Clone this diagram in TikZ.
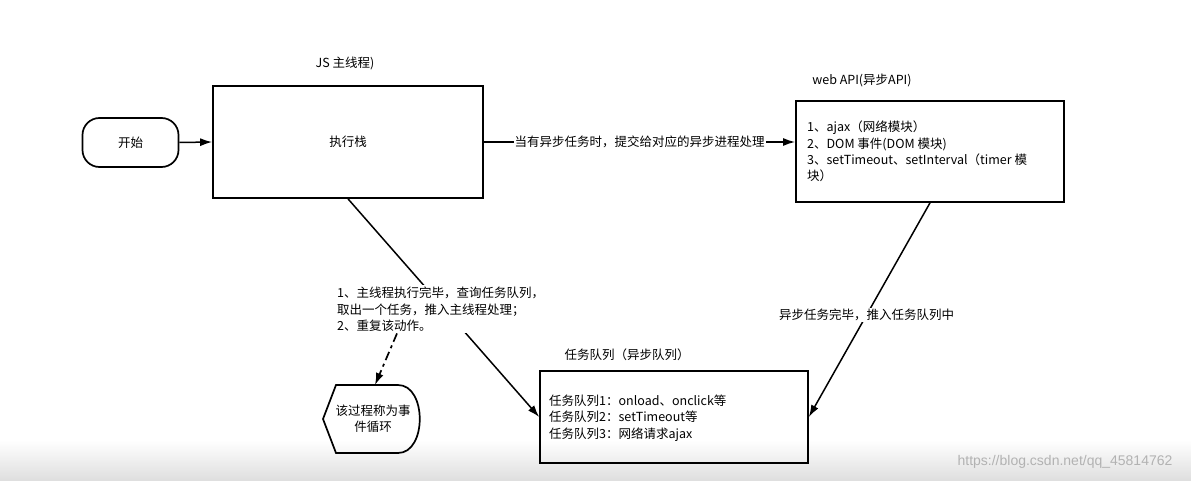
\documentclass[tikz,border=0pt]{standalone}
\usepackage{fontspec}
\setmainfont{Noto Sans CJK SC}
\newfontfamily\wmfont{Liberation Sans}
\usetikzlibrary{arrows.meta,calc}
\begin{document}
\begin{tikzpicture}[x=1pt,y=-1pt,
  box/.style={draw, line width=1.7pt, inner sep=0pt},
  txt/.style={font=\fontsize{12.5}{16.2}\selectfont, inner sep=1pt},
  arr/.style={line width=1.5pt, -{Latex[length=12pt,width=8pt]}},
  dd/.style={line width=1.7pt, dash pattern=on 9pt off 4pt on 3pt off 4pt, -{Latex[length=12pt,width=8pt]}}]
\useasboundingbox (0,0) rectangle (1191,481);
\fill[white] (0,0) rectangle (1191,481);
\shade[top color=white, bottom color=black!13] (0,440) rectangle (1191,481);

% titles
\node[txt] (jst) at (345,63) {JS 主线程)};
\node[txt] (webt) at (862,80) {web API(异步API)};
\node[txt] (qt) at (627,355) {任务队列（异步队列）};

% nodes
\node[box, txt, minimum width=96pt, minimum height=49pt, rounded corners=17pt] (start) at (130.5,142.5) {开始};
\node[box, txt, minimum width=270pt, minimum height=112pt] (stack) at (348,142) {执行栈};
\node[box, minimum width=268pt, minimum height=101pt] (web) at (930,151.5) {};
\node[txt, anchor=north west, align=left] (webtxt) at (806,120)
  {1、ajax（网络模块）\\2、DOM 事件(DOM 模块)\\3、setTimeout、setInterval（timer 模\\块）};
\node[box, minimum width=268pt, minimum height=92pt] (queue) at (674,417) {};
\node[txt, anchor=north west, align=left] (qtxt) at (548,394)
  {任务队列1：onload、onclick等\\任务队列2：setTimeout等\\任务队列3：网络请求ajax};

% event loop shape
\draw[line width=1.7pt] (323,419) -- (336,385) -- (398,385)
  .. controls (427,385) and (427,453) .. (398,453) -- (336,453) -- cycle;
\node[txt, align=center] (loop) at (373,419) {该过程称为事\\件循环};
\coordinate (looptop) at (375,385);

% connectors
\draw[arr] (start.east) -- (stack.west);
\draw[arr] (stack.east) -- node[txt, fill=white, inner sep=1pt] (lbl1) {当有异步任务时，提交给对应的异步进程处理} (stack.east -| web.west);
\draw[arr] (web.south) -- node[txt, fill=white, pos=0.524, inner sep=1pt] (lbl2) {异步任务完毕，推入任务队列中} (queue.east);
\draw[arr] (stack.south) -- (queue.west);
\node[txt, anchor=north west, align=left, fill=white, inner sep=2pt] (note) at (335,285)
  {1、主线程执行完毕，查询任务队列，\\取出一个任务，推入主线程处理；\\2、重复该动作。};
\draw[dd] ([xshift=62pt]note.south west) -- (looptop);

% watermark
\node[text=black!30, font=\wmfont\fontsize{14}{14}\selectfont] (wm) at (1065,462) {https://blog.csdn.net/qq\_45814762};
\end{tikzpicture}
\end{document}
